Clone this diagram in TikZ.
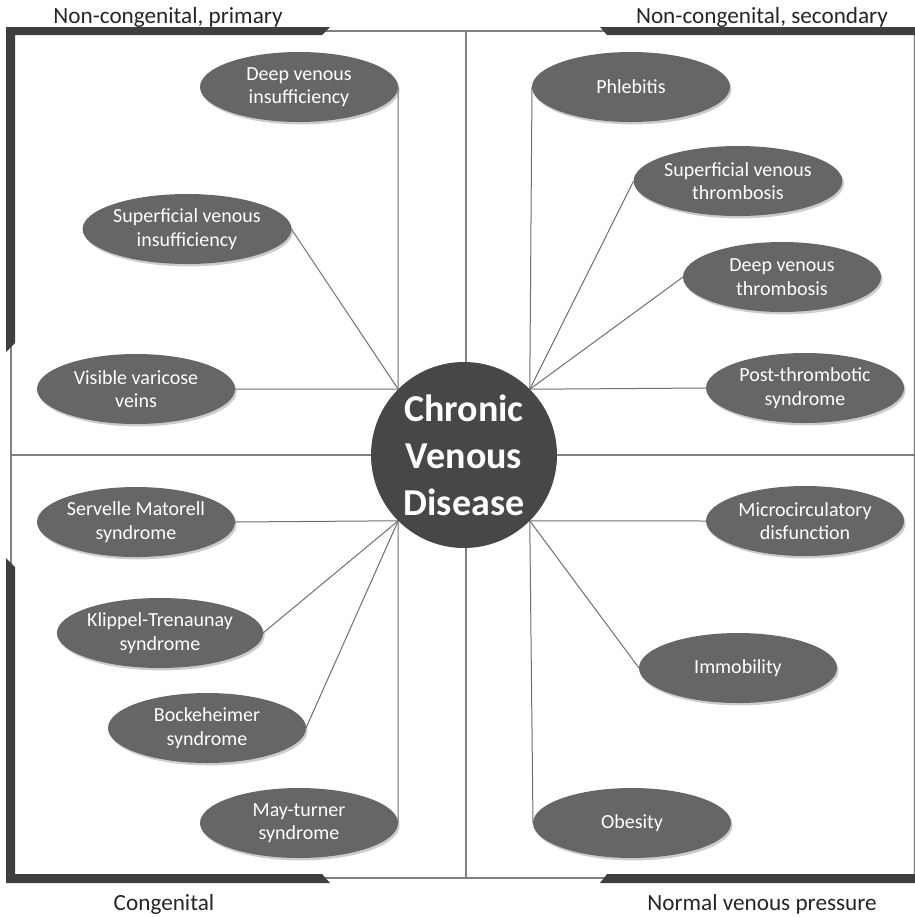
\documentclass[tikz,border=0pt]{standalone}
\usepackage{fontspec}
\setmainfont{Carlito}
\usetikzlibrary{shapes.geometric,shadows}

\definecolor{bracketgray}{HTML}{3F3F3F}
\definecolor{quadgray}{HTML}{808080}
\definecolor{linkgray}{HTML}{6E6E6E}
\definecolor{causegray}{HTML}{666666}
\definecolor{coregray}{HTML}{474747}
\definecolor{labelgray}{HTML}{262626}

\begin{document}
\begin{tikzpicture}[
      x=0.5pt, y=-0.5pt,
      cause node/.style={ellipse, fill=causegray, text=white, align=center, minimum width=99pt, minimum height=35pt, inner sep=0pt, outer sep=0pt, font=\fontsize{10}{11.8}\selectfont, drop shadow={shadow xshift=0.8pt, shadow yshift=-1.2pt, opacity=0.2, fill=black}},
      core node/.style={circle, fill=coregray, text=white, align=center, minimum size=93pt, inner sep=0pt, outer sep=0pt, font=\fontsize{19}{23.5}\selectfont\bfseries},
      group label/.style={text=labelgray, anchor=base, inner sep=0pt, font=\fontsize{11.6}{14}\selectfont},
      link/.style={draw=linkgray, line width=0.5pt},
      quad line/.style={draw=quadgray, line width=0.6pt},
      bracket/.style={fill=bracketgray}
    ]
    \useasboundingbox (0,0) rectangle (915,917);

    % Quadrant frame
    \draw[draw=gray!20, line width=0.6pt] (913.5,31) -- (913.5,878);
    \draw[quad line] (11,31) rectangle (915,878);
    \draw[quad line] (466,31) -- (466,878);
    \draw[quad line] (11,455) -- (915,455);

    % Corner brackets
    \fill[bracket] (6,27) -- (330,27) -- (322,35) -- (15,35) -- (15,343) -- (6,352) -- cycle;
    \fill[bracket] (600,27) -- (915,27) -- (915,35) -- (607,35) -- cycle;
    \fill[bracket] (6,558) -- (15,567) -- (15,874) -- (322,874) -- (330,883) -- (6,883) -- cycle;
    \fill[bracket] (607,874) -- (915,874) -- (915,883) -- (600,883) -- cycle;

    % Group labels
    \node (primary) [group label] at (168,23) {Non-congenital, primary};
    \node (secondary) [group label] at (762,23) {Non-congenital, secondary};
    \node (congenital) [group label] at (164,910) {Congenital};
    \node (pressure) [group label] at (762,910) {Normal venous pressure};

    % Central disease
    \node (cvd) [core node] at (464,455) {Chronic\\Venous\\Disease};

    % Non-congenital, primary
    \node (dvi) [cause node] at (299,87) {Deep venous\\insufficiency};
    \node (svi) [cause node] at (187,229) {Superficial venous\\insufficiency};
    \node (varicose) [cause node] at (136,389) {Visible varicose\\veins};

    % Non-congenital, secondary
    \node (phlebitis) [cause node] at (631,87) {Phlebitis};
    \node (svt) [cause node] at (738,181) {Superficial venous\\thrombosis};
    \node (dvt) [cause node] at (782,277) {Deep venous\\thrombosis};
    \node (pts) [cause node] at (805,388) {Post-thrombotic\\syndrome};

    % Congenital
    \node (servelle) [cause node] at (136,522) {Servelle Matorell\\syndrome};
    \node (klippel) [cause node] at (160,633) {Klippel-Trenaunay\\syndrome};
    \node (bockeheimer) [cause node] at (207,728) {Bockeheimer\\syndrome};
    \node (mayturner) [cause node] at (299,823) {May-turner\\syndrome};

    % Normal venous pressure
    \node (micro) [cause node] at (805,521) {Microcirculatory\\disfunction};
    \node (immobility) [cause node] at (738,668) {Immobility};
    \node (obesity) [cause node] at (632,823) {Obesity};

    % Links to the disease
    \draw[link] (dvi.east) -- (cvd.135);
    \draw[link] (svi.east) -- (cvd.135);
    \draw[link] (varicose.east) -- (cvd.135);
    \draw[link] (phlebitis.west) -- (cvd.45);
    \draw[link] (svt.west) -- (cvd.45);
    \draw[link] (dvt.west) -- (cvd.45);
    \draw[link] (pts.west) -- (cvd.45);
    \draw[link] (servelle.east) -- (cvd.225);
    \draw[link] (klippel.east) -- (cvd.225);
    \draw[link] (bockeheimer.east) -- (cvd.225);
    \draw[link] (mayturner.east) -- (cvd.225);
    \draw[link] (micro.west) -- (cvd.315);
    \draw[link] (immobility.west) -- (cvd.315);
    \draw[link] (obesity.west) -- (cvd.315);
  \end{tikzpicture}
\end{document}
